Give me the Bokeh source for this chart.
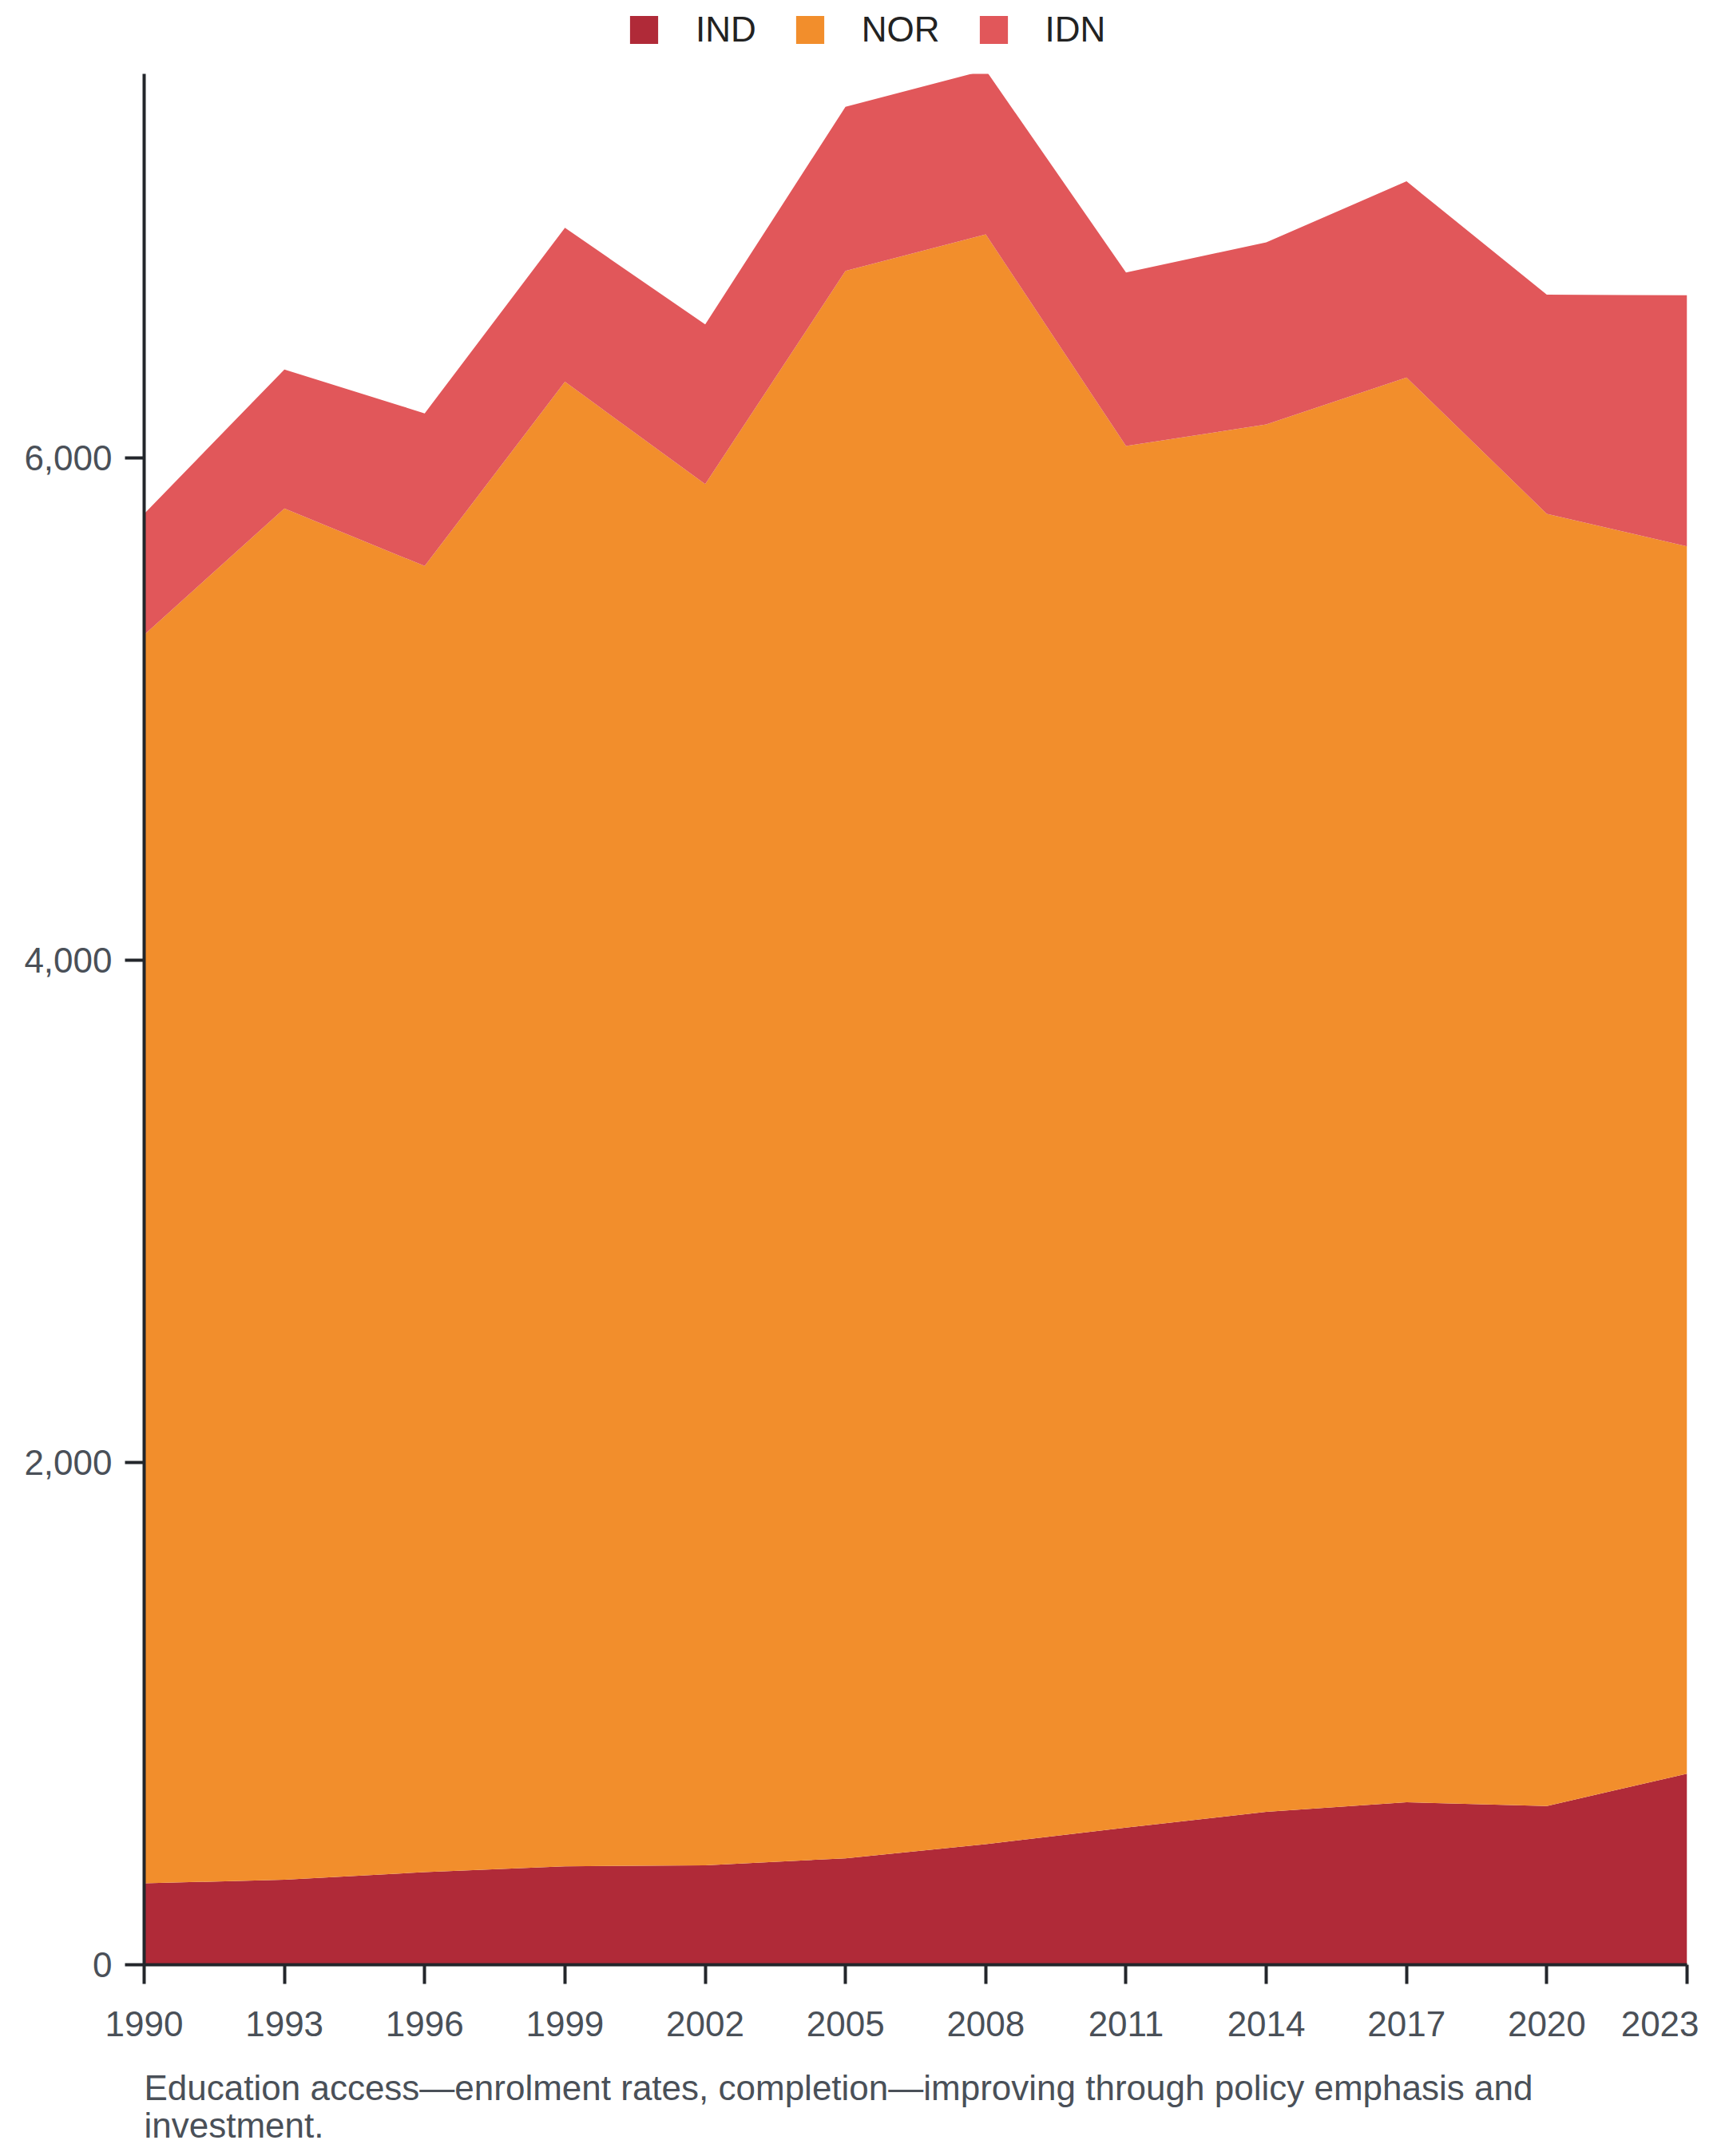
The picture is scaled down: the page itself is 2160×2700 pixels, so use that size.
from bokeh.plotting import figure
from bokeh.models import (ColumnDataSource, Range1d, FixedTicker, NumeralTickFormatter, Legend,
                          LegendItem, Label, LinearAxis)
from bokeh.layouts import column
from bokeh.embed import file_html
from bokeh.resources import INLINE

years = [1990, 1993, 1996, 1999, 2002, 2005, 2008, 2011, 2014, 2017, 2020, 2023]
ind = [324, 339, 369, 392, 396, 424, 480, 546, 609, 647, 632, 761]
nor = [4972, 5460, 5201, 5912, 5500, 6321, 6411, 5502, 5525, 5674, 5146, 4887]
idn = [482, 554, 608, 613, 636, 654, 654, 691, 725, 781, 873, 1000]
series = ["IND", "NOR", "IDN"]
colors = ["#b02a38", "#f28e2c", "#e1575a"]
x_ticks = [1990, 1993, 1996, 1999, 2002, 2005, 2008, 2011, 2014, 2017, 2020, 2023]
y_ticks = [0, 2000, 4000, 6000]
caption = ["Education access\u2014enrolment rates, completion\u2014improving through policy emphasis and",
           "investment."]

FONT = "Liberation Sans"
FS = "44px"
GREY = "#4a5058"
AXIS = "#23262b"

W = 2144
H1, H2, H3 = 92, 2493, 100
BL, BR, BB = 180, 32, 125


def blank(h):
    f = figure(width=W, height=h, output_backend="svg", toolbar_location=None,
               x_range=Range1d(0, 1), y_range=Range1d(0, 1),
               x_axis_location=None, y_axis_location=None, min_border=0)
    f.outline_line_color = None
    f.grid.grid_line_color = None
    return f


# header with legend (swatch renderers sit outside the header's visible range)
head = blank(H1)
swatches = [head.varea(x=[5, 6], y1=[0, 0], y2=[1, 1], color=c) for c in colors]
legend = Legend(items=[LegendItem(label=s, renderers=[r]) for s, r in zip(series, swatches)],
                orientation="horizontal", location=(604, 30), padding=0, margin=0,
                border_line_alpha=0, background_fill_alpha=0, glyph_width=44, glyph_height=44,
                label_standoff=43, spacing=45, label_height=35,
                label_text_font=FONT, label_text_font_size=FS, label_text_color="#222222")
head.add_layout(legend, "center")

# main chart
src = ColumnDataSource(dict(year=years, IND=ind, NOR=nor, IDN=idn))
p = figure(width=W, height=H2, output_backend="svg", toolbar_location=None,
           x_range=Range1d(1990, 2023), y_range=Range1d(0, 7530),
           min_border_left=BL, min_border_right=BR, min_border_top=0, min_border_bottom=BB)
p.outline_line_color = None
p.grid.grid_line_color = None
p.varea_stack(stackers=series, x="year", color=colors, source=src)

for ax in (p.xaxis[0], p.yaxis[0]):
    ax.axis_line_color = AXIS
    ax.axis_line_width = 4
    ax.major_tick_line_color = AXIS
    ax.major_tick_line_width = 4
    ax.major_tick_out = 24
    ax.major_tick_in = 0
    ax.minor_tick_line_color = None
    ax.major_label_text_font = FONT
    ax.major_label_text_font_size = FS
    ax.major_label_text_color = GREY

p.xaxis[0].ticker = FixedTicker(ticks=x_ticks)
p.xaxis[0].major_label_standoff = 34
p.xaxis[0].major_label_overrides = {x_ticks[-1]: ""}
p.yaxis[0].ticker = FixedTicker(ticks=y_ticks)
p.yaxis[0].formatter = NumeralTickFormatter(format="0,0")
p.yaxis[0].major_label_standoff = 16

# last year label flush right against its tick
last = LinearAxis(ticker=FixedTicker(ticks=x_ticks[-1:]), axis_line_color=None,
                  major_tick_line_color=None, minor_tick_line_color=None,
                  major_tick_out=0, major_tick_in=0, major_label_standoff=-34,
                  major_label_text_align="right", major_label_text_font=FONT,
                  major_label_text_font_size=FS, major_label_text_color=GREY)
p.add_layout(last, "below")

# footer with caption
foot = blank(H3)
for i, line in enumerate(caption):
    foot.add_layout(Label(x=0, y=71 - 47 * i, x_units="screen", y_units="screen", text=line,
                          text_align="left", text_baseline="alphabetic", text_font=FONT,
                          text_font_size=FS, text_color=GREY))

layout = column(head, p, foot, spacing=0)
open("out.html", "w").write(file_html(layout, INLINE))
